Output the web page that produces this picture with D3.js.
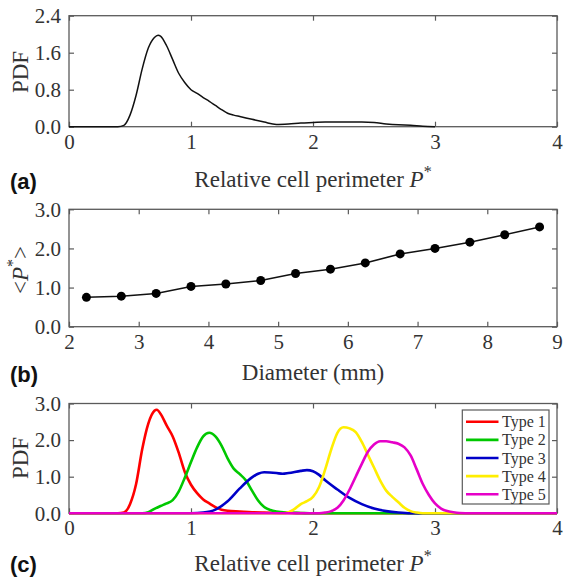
<!DOCTYPE html>
<html>
<head>
<meta charset="utf-8">
<script src="https://cdn.jsdelivr.net/npm/d3@7/dist/d3.min.js"></script>
<style>
  html, body { margin: 0; padding: 0; background: #fff; }
  svg { display: block; }
</style>
</head>
<body>
<svg id="fig" width="565" height="579"></svg>
<script>
// ---- Panel (a): overall PDF of relative cell perimeter ----
const pdfAllX = [0, 0.4, 0.45, 0.5, 0.55, 0.6, 0.65, 0.7, 0.73, 0.75, 0.8, 0.85, 0.9, 0.95, 1.0, 1.05, 1.1, 1.15, 1.2, 1.25, 1.3, 1.35, 1.4, 1.5, 1.6, 1.7, 1.8, 1.9, 2.0, 2.1, 2.2, 2.3, 2.4, 2.5, 2.6, 2.7, 2.8, 2.9, 3.0];
const pdfAllY = [0, 0, 0.03, 0.25, 0.68, 1.25, 1.7, 1.93, 1.98, 1.96, 1.75, 1.45, 1.15, 0.95, 0.8, 0.72, 0.63, 0.55, 0.46, 0.37, 0.29, 0.25, 0.22, 0.16, 0.1, 0.05, 0.06, 0.08, 0.09, 0.1, 0.1, 0.1, 0.1, 0.09, 0.06, 0.04, 0.03, 0.01, 0];
const ticksA_X = [0, 1, 2, 3, 4];
const ticksA_Y = [0, 0.8, 1.6, 2.4];

// ---- Panel (b): mean relative perimeter vs diameter ----
const diameters = [2.25, 2.75, 3.25, 3.75, 4.25, 4.75, 5.25, 5.75, 6.25, 6.75, 7.25, 7.75, 8.25, 8.75];
const meanP = [0.75, 0.78, 0.85, 1.03, 1.09, 1.18, 1.36, 1.47, 1.63, 1.86, 2.00, 2.16, 2.35, 2.55];
const ticksB_X = [2, 3, 4, 5, 6, 7, 8, 9];
const ticksB_Y = [0, 1, 2, 3];

// ---- Panel (c): PDF per cell type ----
const typeNames = ["Type 1", "Type 2", "Type 3", "Type 4", "Type 5"];
const typeColors = ["#ff0000", "#00c800", "#0000c8", "#ffee00", "#e600c8"];
const type1X = [0, 0.4, 0.45, 0.5, 0.55, 0.6, 0.65, 0.7, 0.72, 0.75, 0.8, 0.85, 0.9, 0.95, 1.0, 1.05, 1.1, 1.15, 1.2, 1.25, 1.3, 1.4, 1.5, 1.6, 1.8, 2.0, 4];
const type1Y = [0, 0, 0.02, 0.25, 0.8, 1.75, 2.45, 2.8, 2.83, 2.72, 2.4, 2.1, 1.65, 1.12, 0.78, 0.55, 0.38, 0.27, 0.17, 0.1, 0.07, 0.05, 0.03, 0.02, 0.01, 0, 0];
const type2X = [0, 0.6, 0.65, 0.7, 0.75, 0.8, 0.85, 0.9, 0.95, 1.0, 1.05, 1.1, 1.15, 1.2, 1.25, 1.3, 1.35, 1.4, 1.45, 1.5, 1.55, 1.6, 1.65, 1.7, 1.8, 1.9, 2.0, 4];
const type2Y = [0, 0, 0.03, 0.12, 0.2, 0.27, 0.36, 0.6, 0.98, 1.4, 1.8, 2.1, 2.2, 2.1, 1.85, 1.5, 1.22, 1.07, 0.9, 0.62, 0.35, 0.17, 0.09, 0.05, 0.02, 0.01, 0, 0];
const type3X = [0, 1.0, 1.1, 1.2, 1.3, 1.4, 1.5, 1.55, 1.6, 1.7, 1.75, 1.8, 1.9, 1.95, 2.0, 2.05, 2.1, 2.2, 2.3, 2.4, 2.5, 2.6, 2.7, 2.8, 4];
const type3Y = [0, 0, 0.02, 0.1, 0.33, 0.68, 0.98, 1.08, 1.12, 1.1, 1.08, 1.1, 1.16, 1.18, 1.15, 1.05, 0.9, 0.65, 0.42, 0.25, 0.13, 0.06, 0.02, 0, 0];
const type4X = [0, 1.75, 1.8, 1.85, 1.9, 1.95, 2.0, 2.05, 2.1, 2.15, 2.2, 2.25, 2.3, 2.35, 2.4, 2.45, 2.5, 2.55, 2.6, 2.65, 2.7, 2.75, 2.8, 2.85, 2.9, 4];
const type4Y = [0, 0, 0.03, 0.12, 0.25, 0.33, 0.45, 0.72, 1.2, 1.75, 2.2, 2.35, 2.32, 2.22, 1.95, 1.6, 1.25, 0.9, 0.62, 0.45, 0.3, 0.15, 0.06, 0.02, 0, 0];
const type5X = [0, 2.05, 2.1, 2.15, 2.2, 2.25, 2.3, 2.35, 2.4, 2.45, 2.5, 2.55, 2.6, 2.65, 2.7, 2.75, 2.8, 2.85, 2.9, 2.95, 3.0, 3.05, 3.1, 3.15, 3.2, 3.3, 4];
const type5Y = [0, 0, 0.02, 0.06, 0.15, 0.35, 0.65, 1.0, 1.35, 1.68, 1.88, 1.97, 1.97, 1.94, 1.9, 1.8, 1.58, 1.2, 0.8, 0.5, 0.27, 0.13, 0.06, 0.03, 0.01, 0, 0];
const ticksC_X = [0, 1, 2, 3, 4];
const ticksC_Y = [0, 1, 2, 3];

const typeX = [type1X, type2X, type3X, type4X, type5X];
const typeY = [type1Y, type2Y, type3Y, type4Y, type5Y];

// ---- Shared styling ----
const serif = "'Liberation Serif', 'Times New Roman', serif";
const sans = "'Liberation Sans', Arial, sans-serif";
const axisColor = "#5a5a5a";
const textColor = "#333";
const tickFont = 21;
const labelFont = 23;

const svg = d3.select("#fig");
const left = 69, right = 557;
const midX = (left + right) / 2;

// Draws a boxed axes frame with inward ticks on all four sides.
function frame(g, x, y, xTicks, yTicks, yFmt) {
  const [x0, x1] = x.range();
  const [y0, y1] = y.range();
  const tl = 5;
  const bottom = d3.axisBottom(x).tickValues(xTicks).tickSizeInner(-tl).tickSizeOuter(0).tickPadding(7).tickFormat(d3.format("d"));
  const top = d3.axisTop(x).tickValues(xTicks).tickSizeInner(-tl).tickSizeOuter(0).tickFormat("");
  const leftAx = d3.axisLeft(y).tickValues(yTicks).tickSizeInner(-tl).tickSizeOuter(0).tickPadding(8).tickFormat(yFmt);
  const rightAx = d3.axisRight(y).tickValues(yTicks).tickSizeInner(-tl).tickSizeOuter(0).tickFormat("");

  g.append("g").attr("transform", `translate(0,${y0})`).call(bottom);
  g.append("g").attr("transform", `translate(0,${y1})`).call(top);
  g.append("g").attr("transform", `translate(${x0},0)`).call(leftAx);
  g.append("g").attr("transform", `translate(${x1},0)`).call(rightAx);

  g.selectAll(".domain").remove();
  g.append("rect")
    .attr("x", x0).attr("y", y1)
    .attr("width", x1 - x0).attr("height", y0 - y1)
    .attr("fill", "none").attr("stroke", axisColor).attr("stroke-width", 1.3);
  g.selectAll(".tick line").attr("stroke", axisColor).attr("stroke-width", 1.2);
  g.selectAll(".tick text")
    .style("font-family", serif).style("font-size", tickFont + "px").attr("fill", textColor);
}

// Axis title with an italic P and a raised asterisk.
function perimeterLabel(g, cx, baseline) {
  const t = g.append("text")
    .attr("x", cx).attr("y", baseline)
    .attr("text-anchor", "middle")
    .style("font-family", serif).style("font-size", labelFont + "px").attr("fill", textColor);
  t.append("tspan").text("Relative cell perimeter ");
  t.append("tspan").attr("font-style", "italic").text("P");
  t.append("tspan").attr("dy", -10).style("font-size", "16px").text("*");
}

function panelTag(g, txt, baseline) {
  g.append("text").attr("x", 10).attr("y", baseline)
    .style("font-family", sans).attr("font-weight", "bold")
    .style("font-size", "22px").attr("fill", "#111").text(txt);
}

function yTitle(g, cx, cy) {
  return g.append("text")
    .attr("transform", `translate(${cx},${cy}) rotate(-90)`)
    .attr("text-anchor", "middle")
    .style("font-family", serif).style("font-size", labelFont + "px").attr("fill", textColor);
}

// ================= Panel (a) =================
{
  const g = svg.append("g");
  const x = d3.scaleLinear().domain([0, 4]).range([left, right]);
  const y = d3.scaleLinear().domain([0, 2.4]).range([126.7, 15.7]);
  frame(g, x, y, ticksA_X, ticksA_Y, d3.format(".1f"));

  const line = d3.line().x(d => x(d[0])).y(d => y(d[1])).curve(d3.curveMonotoneX);
  g.append("path")
    .datum(pdfAllX.map((v, i) => [v, pdfAllY[i]]))
    .attr("d", line).attr("fill", "none").attr("stroke", "#111").attr("stroke-width", 1.5);

  yTitle(g, 28, 72).text("PDF");
  perimeterLabel(g, midX, 187);
  panelTag(g, "(a)", 189);
}

// ================= Panel (b) =================
{
  const g = svg.append("g");
  const x = d3.scaleLinear().domain([2, 9]).range([left, right]);
  const y = d3.scaleLinear().domain([0, 3]).range([326.7, 209.3]);
  frame(g, x, y, ticksB_X, ticksB_Y, d3.format(".1f"));

  const pts = diameters.map((d, i) => [d, meanP[i]]);
  const line = d3.line().x(d => x(d[0])).y(d => y(d[1]));
  g.append("path").datum(pts).attr("d", line)
    .attr("fill", "none").attr("stroke", "#111").attr("stroke-width", 1.5);
  g.selectAll("circle.pt").data(pts).enter().append("circle")
    .attr("class", "pt")
    .attr("cx", d => x(d[0])).attr("cy", d => y(d[1]))
    .attr("r", 4.5).attr("fill", "#000");

  const t = yTitle(g, 28, 270);
  t.append("tspan").text("<");
  t.append("tspan").attr("font-style", "italic").text("P");
  t.append("tspan").attr("dy", -10).style("font-size", "16px").text("*");
  t.append("tspan").attr("dy", 10).text(">");

  g.append("text").attr("x", midX).attr("y", 380)
    .attr("text-anchor", "middle")
    .style("font-family", serif).style("font-size", labelFont + "px").attr("fill", textColor)
    .text("Diameter (mm)");
  panelTag(g, "(b)", 382);
}

// ================= Panel (c) =================
{
  const g = svg.append("g");
  const x = d3.scaleLinear().domain([0, 4]).range([left, right]);
  const y = d3.scaleLinear().domain([0, 3]).range([513.3, 403.5]);
  frame(g, x, y, ticksC_X, ticksC_Y, d3.format(".1f"));

  const line = d3.line().x(d => x(d[0])).y(d => y(d[1])).curve(d3.curveMonotoneX);
  typeNames.forEach((name, k) => {
    g.append("path")
      .datum(typeX[k].map((v, i) => [v, typeY[k][i]]))
      .attr("d", line).attr("fill", "none")
      .attr("stroke", typeColors[k]).attr("stroke-width", 2.6);
  });

  // Legend
  const lg = g.append("g");
  lg.append("rect").attr("x", 462.3).attr("y", 410).attr("width", 86.7).attr("height", 94)
    .attr("fill", "#fff").attr("stroke", axisColor).attr("stroke-width", 1.2);
  typeNames.forEach((name, k) => {
    const yy = 421.7 + k * 18.15;
    lg.append("line").attr("x1", 466).attr("x2", 498.5).attr("y1", yy).attr("y2", yy)
      .attr("stroke", typeColors[k]).attr("stroke-width", 2.6);
    lg.append("text").attr("x", 502).attr("y", yy + 5.5)
      .style("font-family", serif).style("font-size", "16px").attr("fill", textColor)
      .text(name);
  });

  yTitle(g, 28, 458).text("PDF");
  perimeterLabel(g, midX, 571);
  panelTag(g, "(c)", 572);
}
</script>
</body>
</html>
